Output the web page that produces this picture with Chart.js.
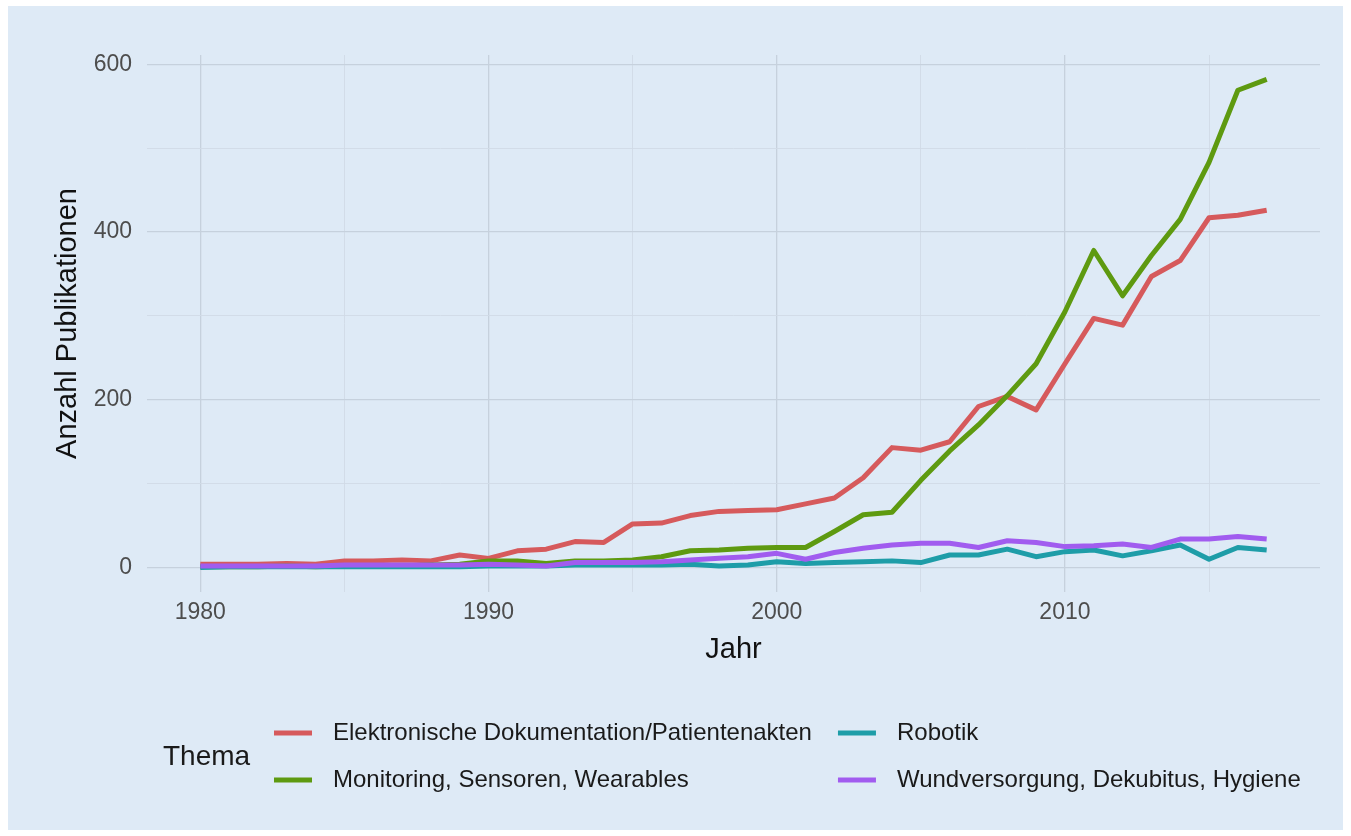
<!DOCTYPE html>
<html>
<head>
<meta charset="utf-8">
<script src="https://cdn.jsdelivr.net/npm/chart.js@4.4.1/dist/chart.umd.min.js"></script>
<style>
  html, body { margin: 0; padding: 0; background: #ffffff; }
  #wrap { position: absolute; left: 8px; top: 6px; width: 1335px; height: 824px; background: #DEEAF6; }
  canvas { display: block; }
</style>
</head>
<body>
<div id="wrap"><canvas id="c" width="1335" height="824"></canvas></div>
<script>
const years = [1980,1981,1982,1983,1984,1985,1986,1987,1988,1989,1990,1991,1992,1993,1994,1995,1996,1997,1998,1999,2000,2001,2002,2003,2004,2005,2006,2007,2008,2009,2010,2011,2012,2013,2014,2015,2016,2017];

const elektronische = [4,4,4,5,4,8,8,9,8,15,11,20,22,31,30,52,53,62,67,68,69,76,83,107,143,140,150,192,204,188,243,297,289,347,366,417,420,426];
const monitoring = [1,1,1,2,1,2,2,2,3,4,8,8,5,8,8,9,13,20,21,23,24,24,43,63,66,104,139,170,205,243,305,378,324,372,415,483,569,582];
const robotik = [0,1,1,1,1,1,1,1,1,1,2,2,2,3,3,3,3,4,2,3,7,5,6,7,8,6,15,15,22,13,19,21,14,20,27,10,24,21];
const wundversorgung = [2,2,2,2,2,3,3,3,3,3,4,3,2,6,6,6,7,9,11,13,17,10,18,23,27,29,29,24,32,30,25,26,28,24,34,34,37,34];

const seriesNames = ["Elektronische Dokumentation/Patientenakten", "Monitoring, Sensoren, Wearables", "Robotik", "Wundversorgung, Dekubitus, Hygiene"];
const seriesColors = ["#D65A5C", "#5E9A10", "#1E9DA8", "#A15CEF"];

const xTicks = [1980,1985,1990,1995,2000,2005,2010,2015];
const xLabels = [1980,1990,2000,2010];
const yTicks = [0,100,200,300,400,500,600];
const yLabels = [0,200,400,600];

const legendTitle = "Thema";
const xTitle = "Jahr";
const yTitle = "Anzahl Publikationen";

const FONT = "'Liberation Sans', Arial, Helvetica, sans-serif";

function pts(vals) { return vals.map((v, i) => ({ x: years[i], y: v })); }

const allSeries = [elektronische, monitoring, robotik, wundversorgung];
const datasets = allSeries.map((vals, i) => ({
  label: seriesNames[i],
  data: pts(vals),
  borderColor: seriesColors[i],
  backgroundColor: seriesColors[i],
  borderWidth: 5,
  pointRadius: 0,
  tension: 0,
  fill: false,
  borderJoinStyle: 'round',
  order: 3 - i
}));

const legendPlugin = {
  id: 'ggLegend',
  afterDraw(chart) {
    const ctx = chart.ctx;
    ctx.save();
    ctx.textBaseline = 'middle';
    ctx.fillStyle = '#1a1a1a';
    ctx.font = "28px " + FONT;
    ctx.textAlign = 'left';
    ctx.fillText(legendTitle, 155, 751);
    ctx.font = "24px " + FONT;
    const rowsY = [727, 774];
    const col1Key = 266, keyLen = 38, keyGap = 21;
    const col1Text = col1Key + keyLen + keyGap;
    const w1 = Math.max(ctx.measureText(seriesNames[0]).width, ctx.measureText(seriesNames[1]).width);
    const col2Key = col1Text + w1 + 26;
    const col2Text = col2Key + keyLen + keyGap;
    const pos = [[col1Key, col1Text, rowsY[0]], [col1Key, col1Text, rowsY[1]], [col2Key, col2Text, rowsY[0]], [col2Key, col2Text, rowsY[1]]];
    chart.data.datasets.forEach((ds, i) => {
      const [kx, tx, y] = pos[i];
      ctx.strokeStyle = ds.borderColor;
      ctx.lineWidth = 5;
      ctx.beginPath();
      ctx.moveTo(kx, y);
      ctx.lineTo(kx + keyLen, y);
      ctx.stroke();
      ctx.fillStyle = '#1a1a1a';
      ctx.fillText(ds.label, tx, y);
    });
    ctx.restore();
  }
};

new Chart(document.getElementById('c'), {
  type: 'line',
  data: { datasets },
  plugins: [legendPlugin],
  options: {
    responsive: false,
    animation: false,
    layout: { padding: { left: 0, top: 49, right: 23, bottom: 163 } },
    plugins: { legend: { display: false }, tooltip: { enabled: false } },
    scales: {
      x: {
        type: 'linear',
        min: 1978.15,
        max: 2018.85,
        afterBuildTicks: (s) => { s.ticks = xTicks.map(v => ({ value: v })); },
        afterFit: (s) => { s.height = 75; },
        ticks: {
          autoSkip: false,
          maxRotation: 0,
          padding: 7,
          color: '#4D4D4D',
          font: { family: FONT, size: 23 },
          callback: (v) => xLabels.includes(v) ? String(v) : ''
        },
        grid: {
          drawTicks: false,
          color: (c) => (c.tick && xLabels.includes(c.tick.value)) ? '#C6D1DD' : '#D0DAE6',
          lineWidth: (c) => (c.tick && xLabels.includes(c.tick.value)) ? 1.3 : 0.9
        },
        border: { display: false },
        title: { display: true, text: xTitle, color: '#111', font: { family: FONT, size: 29 }, padding: { top: 0, bottom: 0 } }
      },
      y: {
        type: 'linear',
        min: -29.1,
        max: 611,
        afterBuildTicks: (s) => { s.ticks = yTicks.map(v => ({ value: v })); },
        afterFit: (s) => { s.width = 139; },
        ticks: {
          padding: 15,
          color: '#4D4D4D',
          font: { family: FONT, size: 23 },
          callback: (v) => yLabels.includes(v) ? String(v) : ''
        },
        grid: {
          drawTicks: false,
          color: (c) => (c.tick && yLabels.includes(c.tick.value)) ? '#C6D1DD' : '#D0DAE6',
          lineWidth: (c) => (c.tick && yLabels.includes(c.tick.value)) ? 1.3 : 0.9
        },
        border: { display: false },
        title: { display: true, text: yTitle, color: '#111', font: { family: FONT, size: 29 }, padding: { top: 43, bottom: 0 } }
      }
    }
  }
});
</script>
</body>
</html>
